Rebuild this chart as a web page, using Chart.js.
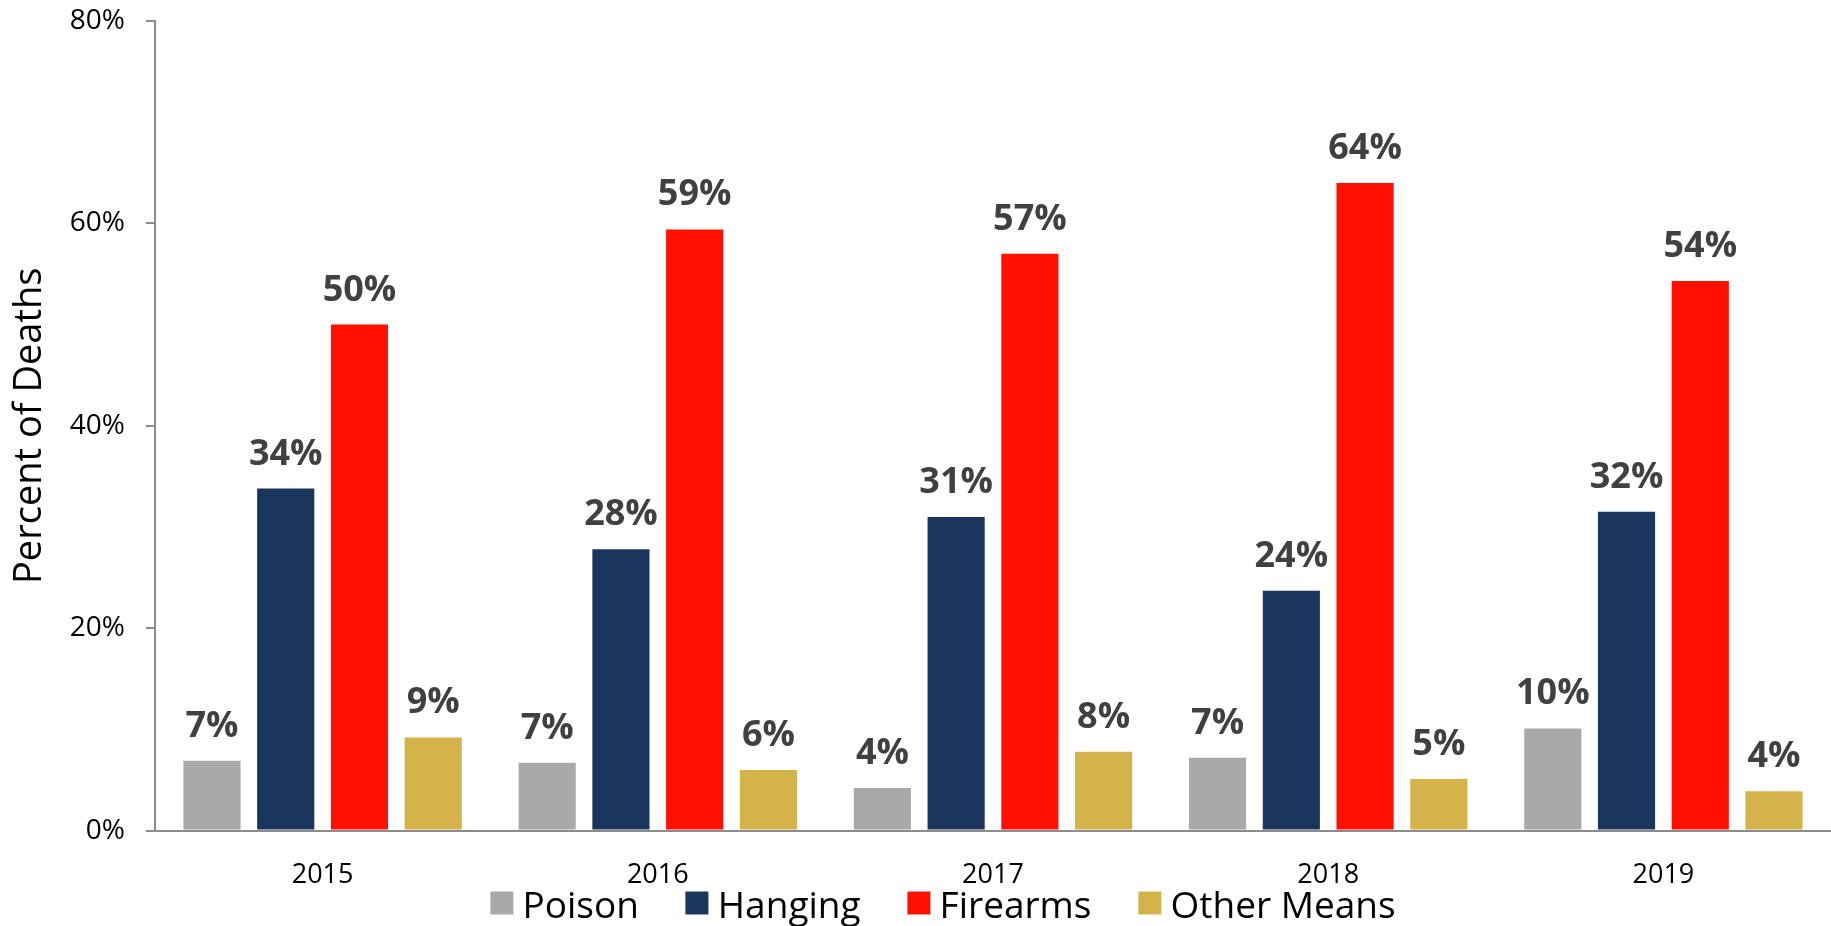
<!DOCTYPE html>
<html>
<head>
<meta charset="utf-8">
<script src="https://cdn.jsdelivr.net/npm/chart.js@4.4.1/dist/chart.umd.min.js"></script>
<style>
  html, body { margin: 0; padding: 0; background: #fff; }
  #wrap { position: relative; width: 1831px; height: 926px; }
  canvas { display: block; }
  #legend {
    position: absolute;
    left: 943px;
    top: 903px;
    transform: translate(-50%, -50%);
    display: flex;
    align-items: center;
    white-space: nowrap;
    font-family: "Open Sans", "Liberation Sans", sans-serif;
    font-size: 37px;
    line-height: 1;
    color: #000;
  }
  #legend .item { display: flex; align-items: center; margin-right: 47px; }
  #legend .item:last-child { margin-right: 0; }
  #legend .box { width: 23px; height: 23px; margin-right: 9px; }
</style>
</head>
<body>
<div id="wrap">
  <canvas id="deathsChart" width="1831" height="926"></canvas>
  <div id="legend"></div>
</div>
<script>
const years = ["2015", "2016", "2017", "2018", "2019"];
const poison = [6.9, 6.7, 4.2, 7.2, 10.1];
const hanging = [33.8, 27.8, 31.0, 23.7, 31.5];
const firearms = [50.0, 59.4, 57.0, 64.0, 54.3];
const otherMeans = [9.2, 6.0, 7.8, 5.1, 3.9];
const yTicks = [0, 20, 40, 60, 80];

const FONT = '"Open Sans", "Liberation Sans", sans-serif';
const axisGray = "#8c8c8c";

// bold percent labels above each bar
const valueLabels = {
  id: "valueLabels",
  afterDatasetsDraw(chart) {
    const ctx = chart.ctx;
    ctx.save();
    ctx.font = "bold 36px " + FONT;
    ctx.fillStyle = "#404040";
    ctx.textAlign = "center";
    ctx.textBaseline = "alphabetic";
    chart.data.datasets.forEach((ds, i) => {
      chart.getDatasetMeta(i).data.forEach((bar, j) => {
        ctx.fillText(Math.round(ds.data[j]) + "%", bar.x, bar.y - 24);
      });
    });
    ctx.restore();
  }
};

const ctx = document.getElementById("deathsChart").getContext("2d");

const chart = new Chart(ctx, {
  type: "bar",
  data: {
    labels: years,
    datasets: [
      { label: "Poison", data: poison, backgroundColor: "#a9a9a9" },
      { label: "Hanging", data: hanging, backgroundColor: "#1b365d" },
      { label: "Firearms", data: firearms, backgroundColor: "#ff1000" },
      { label: "Other Means", data: otherMeans, backgroundColor: "#d5b34b" }
    ]
  },
  options: {
    responsive: false,
    animation: false,
    categoryPercentage: 0.88,
    barPercentage: 0.775,
    layout: { padding: { top: 21, right: 0, bottom: 5, left: 0 } },
    plugins: {
      legend: { display: false },
      tooltip: { enabled: false }
    },
    scales: {
      x: {
        grid: { display: false, drawTicks: false },
        border: { display: true, color: axisGray, width: 2 },
        ticks: { color: "#000", padding: 29, font: { family: FONT, size: 27 } }
      },
      y: {
        min: 0,
        max: 80,
        afterBuildTicks(scale) { scale.ticks = yTicks.map(v => ({ value: v })); },
        grid: { drawOnChartArea: false, tickLength: 9, color: axisGray, lineWidth: 2 },
        border: { display: true, color: axisGray, width: 2 },
        ticks: {
          color: "#000",
          padding: 21,
          font: { family: FONT, size: 28 },
          callback: v => v + "%"
        },
        title: {
          display: true,
          text: "Percent of Deaths",
          color: "#000",
          padding: { top: 7, bottom: 0 },
          font: { family: FONT, size: 38 }
        },
        afterFit(scale) {
          scale.width = 155;
          scale.paddingTop = 0;
          scale.paddingBottom = 0;
        }
      }
    }
  },
  plugins: [valueLabels]
});

// HTML legend built from the datasets
const legendDiv = document.getElementById("legend");
chart.data.datasets.forEach(ds => {
  const item = document.createElement("div");
  item.className = "item";
  const box = document.createElement("span");
  box.className = "box";
  box.style.background = ds.backgroundColor;
  const txt = document.createElement("span");
  txt.textContent = ds.label;
  item.appendChild(box);
  item.appendChild(txt);
  legendDiv.appendChild(item);
});
</script>
</body>
</html>
